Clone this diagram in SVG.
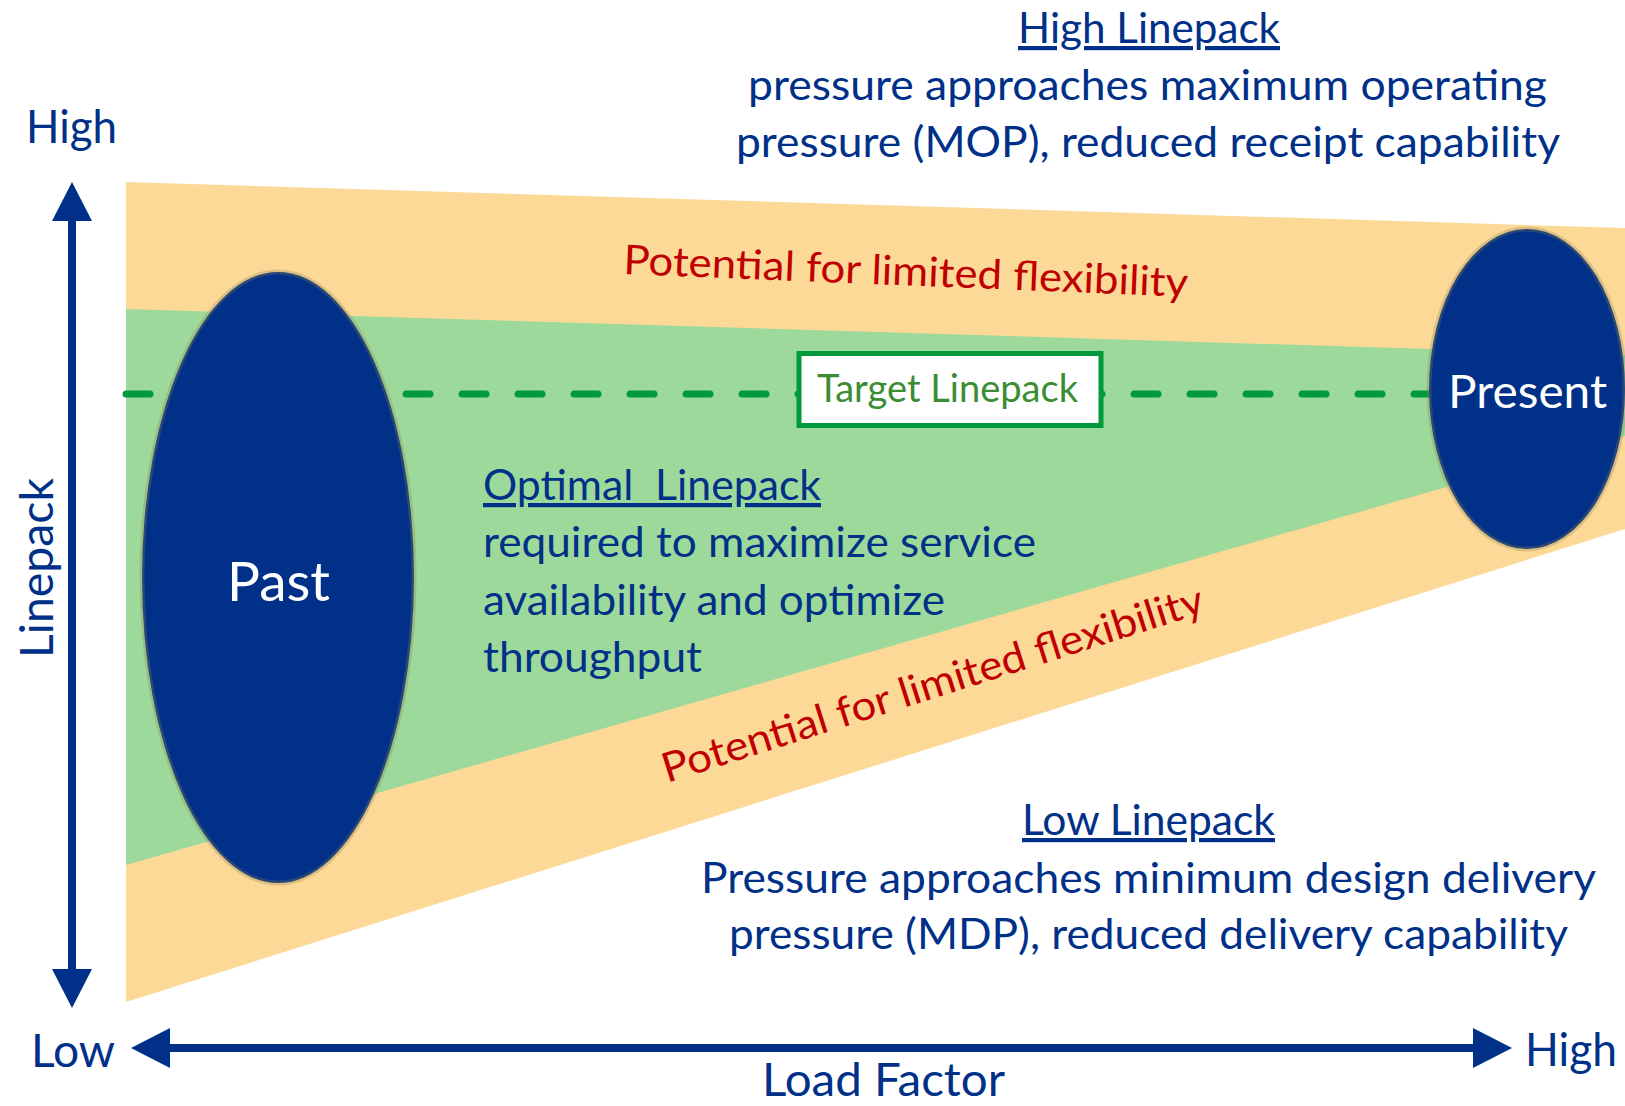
<svg xmlns="http://www.w3.org/2000/svg" width="1625" height="1106" viewBox="0 0 1625 1106">
  <style>
    .t { font-family: Lato, "Liberation Sans", sans-serif; font-weight: 400; }
    .blue { fill: #003087; }
    .body { font-size: 42px; }
    .red { fill: #C00000; font-size: 41px; }
    .ul { text-decoration: underline; }
    .ell { fill: #003087; stroke: #8a8050; stroke-opacity: 0.3; stroke-width: 5; }
    .wh { fill: #ffffff; }
    .axis { stroke: #003087; stroke-width: 8; fill: none; }
  </style>
  <defs>
    <marker id="ah" viewBox="0 0 39 40" refX="0" refY="20" markerWidth="39" markerHeight="40" markerUnits="userSpaceOnUse" orient="auto-start-reverse">
      <path d="M0,0 L39,20 L0,40 z" fill="#003087"/>
    </marker>
  </defs>
  <rect width="1625" height="1106" fill="#ffffff"/>

  <g id="bands">
    <polygon points="126,182 1625,228 1625,529 126,1002" fill="#FDD998"/>
    <polygon points="126,309 1625,355 1625,436 126,865" fill="#9DD99A"/>
  </g>

  <g id="connectors">
    <line x1="126" y1="394" x2="1440" y2="394" stroke="#009A3D" stroke-width="7" stroke-linecap="round" stroke-dasharray="24 32"/>
    <line class="axis" x1="72" y1="221" x2="72" y2="969" marker-start="url(#ah)" marker-end="url(#ah)"/>
    <line class="axis" x1="170" y1="1048" x2="1473" y2="1048" marker-start="url(#ah)" marker-end="url(#ah)"/>
  </g>

  <g id="past">
    <ellipse class="ell" cx="278" cy="577.5" rx="136" ry="305.5"/>
    <text class="t wh" x="227" y="601" font-size="54" textLength="103" lengthAdjust="spacingAndGlyphs">Past</text>
  </g>

  <g id="present">
    <ellipse class="ell" cx="1527" cy="389" rx="98" ry="160"/>
    <text class="t wh" x="1448" y="408" font-size="46" textLength="159" lengthAdjust="spacingAndGlyphs">Present</text>
  </g>

  <g id="target">
    <rect x="799" y="353.5" width="302" height="72" fill="#ffffff" stroke="#009A3D" stroke-width="5"/>
    <text class="t" x="817" y="402" font-size="38" fill="#3A8D32" textLength="261" lengthAdjust="spacingAndGlyphs">Target Linepack</text>
  </g>

  <g id="high-linepack">
    <text class="t blue body ul" x="1018" y="43" textLength="262" lengthAdjust="spacingAndGlyphs">High Linepack</text>
    <text class="t blue body" x="748" y="100" textLength="799" lengthAdjust="spacingAndGlyphs">pressure approaches maximum operating</text>
    <text class="t blue body" x="736" y="157" textLength="824" lengthAdjust="spacingAndGlyphs">pressure (MOP), reduced receipt capability</text>
  </g>

  <g id="optimal-linepack">
    <text class="t blue body ul" x="483" y="500" textLength="338" lengthAdjust="spacingAndGlyphs" xml:space="preserve">Optimal  Linepack</text>
    <text class="t blue body" x="483" y="557" textLength="553" lengthAdjust="spacingAndGlyphs">required to maximize service</text>
    <text class="t blue body" x="483" y="615" textLength="462" lengthAdjust="spacingAndGlyphs">availability and optimize</text>
    <text class="t blue body" x="483" y="672" textLength="219" lengthAdjust="spacingAndGlyphs">throughput</text>
  </g>

  <g id="low-linepack">
    <text class="t blue body ul" x="1022" y="835" textLength="253" lengthAdjust="spacingAndGlyphs">Low Linepack</text>
    <text class="t blue body" x="701" y="893" textLength="895" lengthAdjust="spacingAndGlyphs">Pressure approaches minimum design delivery</text>
    <text class="t blue body" x="729" y="949" textLength="839" lengthAdjust="spacingAndGlyphs">pressure (MDP), reduced delivery capability</text>
  </g>

  <g id="flex-top">
    <text class="t red" x="623" y="274" transform="rotate(2.3 623 274)" textLength="565" lengthAdjust="spacingAndGlyphs">Potential for limited flexibility</text>
  </g>
  <g id="flex-bottom">
    <text class="t red" x="667" y="783" transform="rotate(-17.6 667 783)" textLength="566" lengthAdjust="spacingAndGlyphs">Potential for limited flexibility</text>
  </g>

  <g id="axis-labels">
    <text class="t blue" x="26" y="143" font-size="46" textLength="91" lengthAdjust="spacingAndGlyphs">High</text>
    <text class="t blue" x="31" y="1067" font-size="46" textLength="84" lengthAdjust="spacingAndGlyphs">Low</text>
    <text class="t blue" x="1525" y="1066" font-size="46" textLength="92" lengthAdjust="spacingAndGlyphs">High</text>
    <text class="t blue" x="762" y="1096" font-size="46" textLength="243" lengthAdjust="spacingAndGlyphs">Load Factor</text>
    <text class="t blue" transform="translate(53 658) rotate(-90)" x="0" y="0" font-size="46" textLength="180" lengthAdjust="spacingAndGlyphs">Linepack</text>
  </g>
</svg>
